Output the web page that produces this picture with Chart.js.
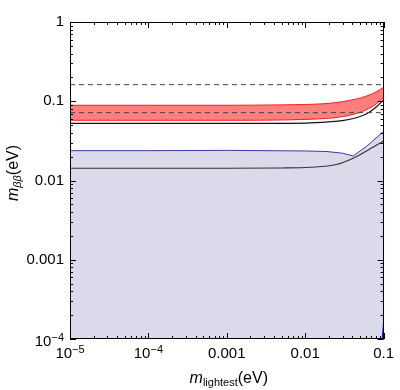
<!DOCTYPE html>
<html>
<head>
<meta charset="utf-8">
<script src="https://cdn.jsdelivr.net/npm/chart.js@4/dist/chart.umd.min.js"></script>
<style>
  body { margin: 0; background: #fff; }
  #wrap { width: 400px; height: 390px; }
</style>
</head>
<body>
<div id="wrap"><canvas id="myChart" width="400" height="390"></canvas></div>
<script>
const xBand = [1e-5, 1e-4, 1e-3, 0.005, 0.01, 0.02, 0.03, 0.045, 0.06, 0.08, 0.1];
const redTop = [0.089, 0.089, 0.089, 0.090, 0.091, 0.094, 0.099, 0.107, 0.116, 0.131, 0.150];
const redBottom = [0.0575, 0.0575, 0.0575, 0.058, 0.059, 0.061, 0.064, 0.070, 0.078, 0.092, 0.112];
const blackUpper = [0.0525, 0.0525, 0.0525, 0.0527, 0.053, 0.055, 0.057, 0.062, 0.069, 0.084, 0.104];

const xBlue = [1e-5, 1e-4, 1e-3, 0.005, 0.01, 0.019, 0.03, 0.041, 0.06, 0.1];
const blueTop = [0.0238, 0.0238, 0.0240, 0.0237, 0.0236, 0.0232, 0.0221, 0.0204, 0.0268, 0.0415];

const xLower = [1e-5, 1e-4, 1e-3, 0.005, 0.0115, 0.025, 0.041, 0.059, 0.1];
const blackLower = [0.0143, 0.0143, 0.0143, 0.0144, 0.0147, 0.0159, 0.0191, 0.0232, 0.0315];

const xEdge = [0.0962, 0.1];
const blueEdge = [1e-4, 1.6e-4];

const xLimits = [1e-5, 0.1];
const dashHigh = [0.162, 0.162];
const dashLow = [0.0718, 0.0718];

const xTickValues = [1e-5, 1e-4, 1e-3, 1e-2, 1e-1];
const xTickLabels = ['10^\u22125', '10^\u22124', '0.001', '0.01', '0.1'];
const yTickValues = [1e-4, 1e-3, 1e-2, 1e-1, 1];
const yTickLabels = ['10^\u22124', '0.001', '0.01', '0.1', '1'];

function pts(xs, ys) {
    return xs.map((x, i) => ({ x: x, y: ys[i] }));
}

const FONT = '"Liberation Sans", Arial, sans-serif';

const frameTicks = {
    id: 'frameTicks',
    afterDatasetsDraw(chart) {
        const { ctx, chartArea: a, scales } = chart;
        const xs = scales.x, ys = scales.y;
        ctx.save();
        ctx.strokeStyle = '#000';
        ctx.lineWidth = 1;
        ctx.strokeRect(Math.round(a.left) + 0.5, Math.round(a.top) + 0.5,
            Math.round(a.right - a.left) - 1, Math.round(a.bottom - a.top) - 1);
        ctx.beginPath();
        for (let d = -5; d <= -1; d++) {
            for (let k = 1; k <= 9; k++) {
                const v = k * Math.pow(10, d);
                if (v > 0.1 * 1.0001) break;
                const px = Math.round(xs.getPixelForValue(v)) + 0.5;
                const len = k === 1 ? 6 : 3;
                ctx.moveTo(px, a.bottom); ctx.lineTo(px, a.bottom - len);
                ctx.moveTo(px, a.top); ctx.lineTo(px, a.top + len);
            }
        }
        for (let d = -4; d <= 0; d++) {
            for (let k = 1; k <= 9; k++) {
                const v = k * Math.pow(10, d);
                if (v > 1.0001) break;
                const py = Math.round(ys.getPixelForValue(v)) + 0.5;
                const len = k === 1 ? 6 : 3;
                ctx.moveTo(a.left, py); ctx.lineTo(a.left + len, py);
                ctx.moveTo(a.right, py); ctx.lineTo(a.right - len, py);
            }
        }
        ctx.stroke();

        // power-of-ten tick labels with a raised exponent
        ctx.fillStyle = '#000';
        ctx.textBaseline = 'alphabetic';
        ctx.textAlign = 'left';
        function power(label, x, base, align) {
            const parts = label.split('^');
            ctx.font = '15px ' + FONT; const w1 = ctx.measureText(parts[0]).width;
            ctx.font = '11px ' + FONT; const w2 = ctx.measureText(parts[1]).width;
            const x0 = align === 'right' ? x - w1 - w2 : x - (w1 + w2) / 2;
            ctx.font = '15px ' + FONT; ctx.fillText(parts[0], x0, base);
            ctx.font = '11px ' + FONT; ctx.fillText(parts[1], x0 + w1, base - 5);
        }
        xTickLabels.forEach((lab, i) => {
            if (lab.includes('^')) power(lab, xs.getPixelForValue(xTickValues[i]), 358, 'center');
        });
        yTickLabels.forEach((lab, i) => {
            if (lab.includes('^')) power(lab, a.left - 6, ys.getPixelForValue(yTickValues[i]) + 7, 'right');
        });

        // axis titles with subscripts
        function title(sub, subFont, cx, cy, rot) {
            ctx.save();
            ctx.translate(cx, cy);
            if (rot) ctx.rotate(-Math.PI / 2);
            ctx.font = 'italic 16px ' + FONT; const w1 = ctx.measureText('m').width;
            ctx.font = subFont; const w2 = ctx.measureText(sub).width;
            ctx.font = '16px ' + FONT; const w3 = ctx.measureText('(eV)').width;
            const x0 = -(w1 + w2 + w3) / 2;
            ctx.font = 'italic 16px ' + FONT; ctx.fillText('m', x0, 5);
            ctx.font = subFont; ctx.fillText(sub, x0 + w1, 8);
            ctx.font = '16px ' + FONT; ctx.fillText('(eV)', x0 + w1 + w2, 5);
            ctx.restore();
        }
        title('lightest', '11px ' + FONT, (a.left + a.right) / 2 + 2, 378, false);
        title('\u03B2\u03B2', 'italic 11px ' + FONT, 13, 173, true);
        ctx.restore();
    }
};

const ctx = document.getElementById('myChart').getContext('2d');
new Chart(ctx, {
    type: 'line',
    data: {
        datasets: [
            { data: pts(xLimits, dashHigh), borderColor: '#444', borderWidth: 1, borderDash: [5, 4], pointRadius: 0, fill: false },
            { data: pts(xLimits, dashLow), borderColor: '#444', borderWidth: 1, borderDash: [5, 4], pointRadius: 0, fill: false },
            { data: pts(xBand, blackUpper), borderColor: '#111', borderWidth: 1.2, pointRadius: 0, fill: false, cubicInterpolationMode: 'monotone' },
            { data: pts(xBand, redBottom), borderColor: '#ff1a1a', borderWidth: 1, pointRadius: 0, fill: false, cubicInterpolationMode: 'monotone' },
            { data: pts(xBand, redTop), borderColor: '#ff1a1a', borderWidth: 1, pointRadius: 0, backgroundColor: 'rgba(255,0,0,0.5)', fill: '-1', cubicInterpolationMode: 'monotone' },
            { data: pts(xLower, blackLower), borderColor: '#333', borderWidth: 1.1, pointRadius: 0, fill: false, cubicInterpolationMode: 'monotone' },
            { data: pts(xEdge, blueEdge), borderColor: '#2020c0', borderWidth: 1.2, pointRadius: 0, fill: false },
            { data: pts(xBlue, blueTop), borderColor: '#3a3aa8', borderWidth: 1, pointRadius: 0, backgroundColor: 'rgb(218,218,234)', fill: 'start' }
        ]
    },
    options: {
        responsive: false,
        animation: false,
        layout: { padding: { top: 22, right: 12, left: 0, bottom: 0 } },
        plugins: { legend: { display: false }, tooltip: { enabled: false } },
        scales: {
            x: {
                type: 'logarithmic',
                min: 1e-5, max: 0.1,
                grid: { display: false, drawTicks: false },
                border: { display: false },
                afterBuildTicks: (scale) => { scale.ticks = xTickValues.map(v => ({ value: v })); },
                afterFit: (scale) => { scale.height = 51; },
                ticks: {
                    autoSkip: false, maxRotation: 0, padding: 6,
                    color: '#000', font: { family: FONT, size: 15 },
                    callback: (v, i) => xTickLabels[i].includes('^') ? '' : xTickLabels[i]
                }
            },
            y: {
                type: 'logarithmic',
                min: 1e-4, max: 1,
                grid: { display: false, drawTicks: false },
                border: { display: false },
                afterBuildTicks: (scale) => { scale.ticks = yTickValues.map(v => ({ value: v })); },
                afterFit: (scale) => { scale.width = 70; },
                ticks: {
                    autoSkip: false, padding: 6,
                    color: '#000', font: { family: FONT, size: 15 },
                    callback: (v, i) => yTickLabels[i].includes('^') ? '' : yTickLabels[i]
                }
            }
        }
    },
    plugins: [frameTicks]
});
</script>
</body>
</html>
